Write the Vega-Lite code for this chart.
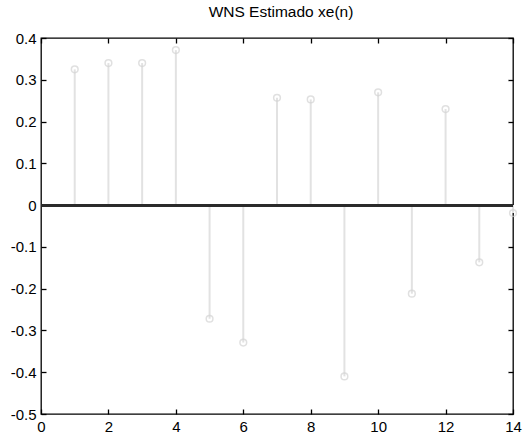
{
  "$schema": "https://vega.github.io/schema/vega-lite/v6.json",
  "width": 472,
  "height": 376,
  "autosize": {"type": "none"},
  "padding": {"left": 41, "top": 38, "right": 19, "bottom": 26},
  "background": "white",
  "title": {"text": "WNS Estimado xe(n)", "font": "Liberation Sans", "fontSize": 15.5, "fontWeight": "normal", "color": "black", "offset": 11, "dx": 4},
  "config": {
    "view": {"stroke": "black", "strokeWidth": 1.3},
    "axis": {"grid": false, "domain": false, "tickColor": "black", "tickSize": -5, "tickWidth": 1.3,
      "labelFont": "Liberation Sans", "labelFontSize": 15, "labelColor": "black", "title": null}
  },
  "data": {"values": [
    {"n": 1, "xe": 0.325}, {"n": 2, "xe": 0.340}, {"n": 3, "xe": 0.340}, {"n": 4, "xe": 0.371},
    {"n": 5, "xe": -0.272}, {"n": 6, "xe": -0.329}, {"n": 7, "xe": 0.257}, {"n": 8, "xe": 0.253},
    {"n": 9, "xe": -0.410}, {"n": 10, "xe": 0.270}, {"n": 11, "xe": -0.212}, {"n": 12, "xe": 0.230},
    {"n": 13, "xe": -0.137}, {"n": 14, "xe": -0.019}
  ]},
  "resolve": {"axis": {"x": "independent", "y": "independent"}},
  "layer": [
    {
      "mark": {"type": "rule", "color": "#e2e2e2", "strokeWidth": 2},
      "encoding": {
        "x": {"field": "n", "type": "quantitative", "scale": {"domain": [0, 14], "nice": false},
          "axis": {"orient": "bottom", "values": [0,2,4,6,8,10,12,14], "labelPadding": 10, "labelFlush": false, "labelFontSize": 15}},
        "y": {"field": "xe", "type": "quantitative", "scale": {"domain": [-0.5, 0.4], "nice": false},
          "axis": {"orient": "left", "values": [-0.5,-0.4,-0.3,-0.2,-0.1,0,0.1,0.2,0.3,0.4], "labelPadding": 10, "labelFontSize": 15,
            "labelExpr": "replace(format(datum.value, '.1~f'), '\u2212', '-')"}},
        "y2": {"datum": 0}
      }
    },
    {
      "mark": {"type": "point", "shape": "circle", "filled": false, "color": "#d4d4d4", "strokeWidth": 1.5, "size": 45, "clip": false},
      "encoding": {
        "x": {"field": "n", "type": "quantitative",
          "axis": {"orient": "top", "values": [0,2,4,6,8,10,12,14], "labels": false}},
        "y": {"field": "xe", "type": "quantitative",
          "axis": {"orient": "right", "values": [-0.5,-0.4,-0.3,-0.2,-0.1,0,0.1,0.2,0.3,0.4], "labels": false}}
      }
    },
    {
      "mark": {"type": "rule", "color": "#2a2a2a", "strokeWidth": 2.2},
      "encoding": {
        "y": {"datum": 0, "type": "quantitative", "axis": null}
      }
    }
  ]
}
